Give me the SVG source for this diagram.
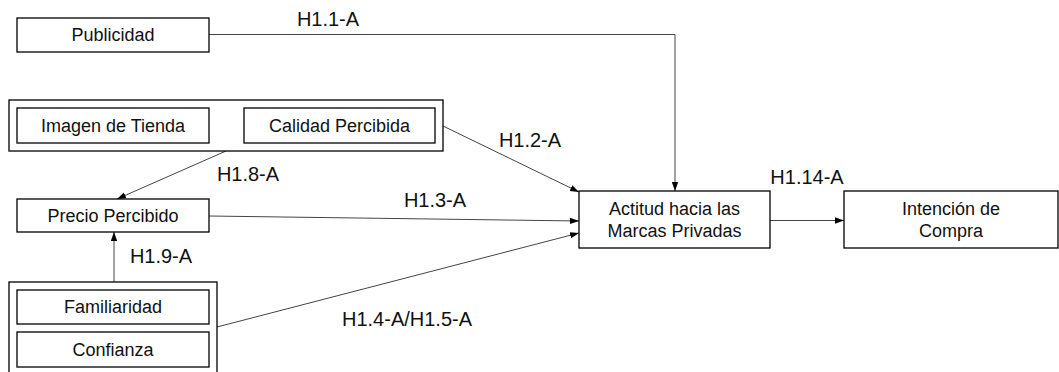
<svg xmlns="http://www.w3.org/2000/svg" width="1059" height="372" viewBox="0 0 1059 372">
<style>
.box{fill:#fff;stroke:#000;stroke-width:1.3}
.t{font-family:"Liberation Sans",Arial,sans-serif;font-size:18px;fill:#111;text-anchor:middle}
.lbl{font-family:"Liberation Sans",Arial,sans-serif;font-size:20px;fill:#111;text-anchor:middle}
.c{fill:none;stroke:#444;stroke-width:1}
</style>
<defs>
<marker id="ah" markerUnits="userSpaceOnUse" markerWidth="9" markerHeight="8" viewBox="0 0 9 8" refX="9" refY="4" orient="auto">
<path d="M0,0.8 L9,4 L0,7.2 Z" fill="#000"/>
</marker>
</defs>
<rect width="1059" height="372" fill="#fff"/>
<g id="connectors">
<polyline class="c" points="209,34.5 675,34.5 675,191" marker-end="url(#ah)"/>
<line class="c" x1="443" y1="126" x2="579" y2="192" marker-end="url(#ah)"/>
<line class="c" x1="226" y1="151" x2="117" y2="199" marker-end="url(#ah)"/>
<line class="c" x1="209" y1="216" x2="579" y2="221" marker-end="url(#ah)"/>
<line class="c" x1="217" y1="327" x2="579" y2="233" marker-end="url(#ah)"/>
<line class="c" x1="114" y1="282" x2="114" y2="232" marker-end="url(#ah)"/>
<line class="c" x1="770" y1="220.5" x2="844" y2="220.5" marker-end="url(#ah)"/>
</g>
<g id="labels">
<text class="lbl" x="328" y="26">H1.1-A</text>
<text class="lbl" x="530" y="147">H1.2-A</text>
<text class="lbl" x="248" y="181">H1.8-A</text>
<text class="lbl" x="435" y="207">H1.3-A</text>
<text class="lbl" x="407" y="326">H1.4-A/H1.5-A</text>
<text class="lbl" x="161" y="263">H1.9-A</text>
<text class="lbl" x="807" y="184">H1.14-A</text>
</g>
<g id="publicidad">
<rect class="box" x="17" y="18" width="192" height="34"/>
<text class="t" x="113" y="41">Publicidad</text>
</g>
<g id="grupo-tienda">
<rect class="box" x="9" y="100" width="434" height="51"/>
</g>
<g id="imagen-tienda">
<rect class="box" x="17" y="108" width="192" height="35"/>
<text class="t" x="113" y="131.5">Imagen de Tienda</text>
</g>
<g id="calidad-percibida">
<rect class="box" x="244" y="108" width="191" height="35"/>
<text class="t" x="339.5" y="131.5">Calidad Percibida</text>
</g>
<g id="precio-percibido">
<rect class="box" x="17" y="199" width="192" height="33"/>
<text class="t" x="113" y="221.5">Precio Percibido</text>
</g>
<g id="grupo-marca">
<rect class="box" x="9" y="282" width="208" height="95"/>
</g>
<g id="familiaridad">
<rect class="box" x="17" y="290" width="192" height="34"/>
<text class="t" x="113" y="313">Familiaridad</text>
</g>
<g id="confianza">
<rect class="box" x="17" y="332" width="192" height="35"/>
<text class="t" x="113" y="355.5">Confianza</text>
</g>
<g id="actitud">
<rect class="box" x="579" y="191" width="191" height="57"/>
<text class="t" x="674.5" y="215">Actitud hacia las</text>
<text class="t" x="674.5" y="237">Marcas Privadas</text>
</g>
<g id="intencion">
<rect class="box" x="844" y="191" width="214" height="57"/>
<text class="t" x="951" y="215">Intención de</text>
<text class="t" x="951" y="237">Compra</text>
</g>
</svg>
